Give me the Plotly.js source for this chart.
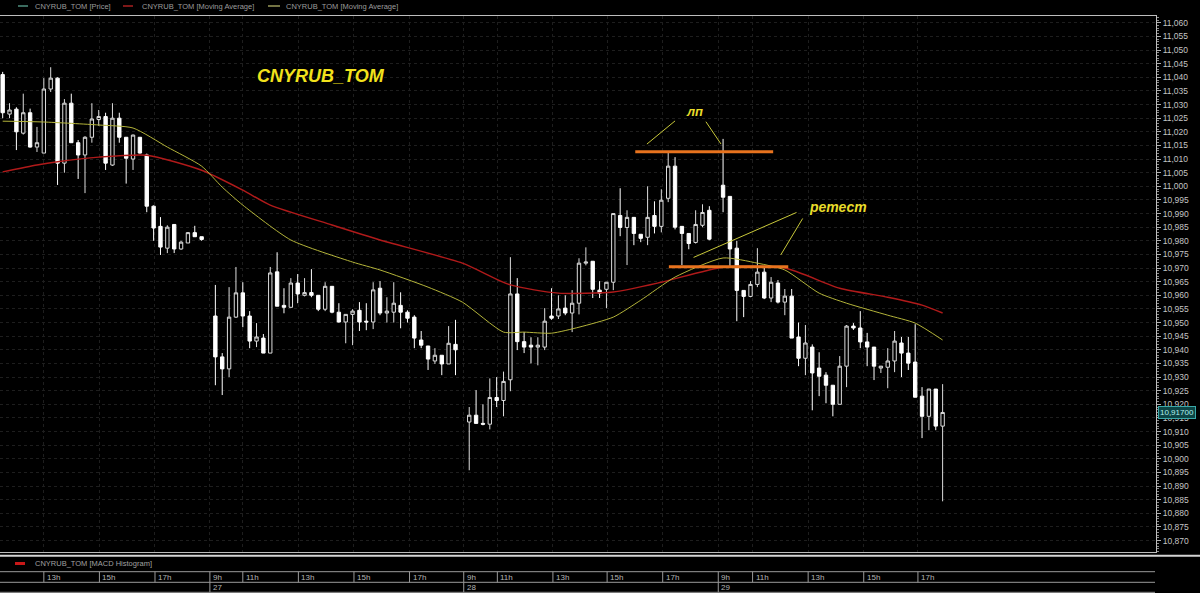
<!DOCTYPE html>
<html>
<head>
<meta charset="utf-8">
<script src="https://cdn.plot.ly/plotly-3.0.1.min.js"></script>
<style>
html,body{margin:0;padding:0;background:#000;}
#chart{width:1200px;height:593px;}
</style>
</head>
<body>
<div id="chart"></div>
<script>
// ---- Data (15-minute candles, CNYRUB_TOM) ----
const dayStart = [0, 31, 68, 105];
const dayCount = [30, 36, 36, 33];

const open = [
 11.0410,11.0265,11.0283,11.0195,11.0270,11.0144,11.0122,11.0357,11.0397,11.0085,
 11.0305,11.0160,11.0115,11.0180,11.0245,11.0256,11.0078,11.0250,11.0180,11.0100,
 11.0180,11.0115,10.9927,10.9853,10.9773,10.9860,10.9770,10.9792,10.9830,10.9815,
 10.9524,10.9374,10.9330,10.9520,10.9609,10.9524,10.9432,10.9443,10.9388,10.9686,
 10.9563,10.9556,10.9645,10.9600,10.9610,10.9600,10.9549,10.9633,10.9538,10.9502,
 10.9530,10.9545,10.9505,10.9502,10.9626,10.9535,10.9538,10.9563,10.9538,10.9520,
 10.9436,10.9414,10.9359,10.9380,10.9348,10.9420,
 10.9135,10.9160,10.9130,10.9127,10.9225,10.9214,10.9290,10.9605,10.9430,10.9417,
 10.9410,10.9410,10.9524,10.9524,10.9553,10.9535,10.9571,10.9718,10.9725,10.9619,
 10.9622,10.9648,10.9893,10.9849,10.9886,10.9824,10.9813,10.9893,10.9853,10.9956,
 11.0074,10.9853,10.9827,10.9794,10.9857,10.9912,
 11.0004,10.9963,10.9773,10.9618,10.9596,10.9640,10.9685,10.9590,10.9645,10.9575,
 10.9597,10.9447,10.9369,10.9410,10.9333,10.9307,10.9270,10.9200,10.9340,10.9487,
 10.9480,10.9429,10.9410,10.9333,10.9336,10.9359,10.9425,10.9388,10.9355,10.9230,
 10.9156,10.9256,10.9120
];
const high = [
 11.0420,11.0305,11.0290,11.0340,11.0285,11.0218,11.0397,11.0437,11.0400,11.0320,
 11.0340,11.0170,11.0184,11.0305,11.0280,11.0270,11.0305,11.0270,11.0180,11.0190,
 11.0180,11.0120,10.9930,10.9887,10.9857,10.9860,10.9800,10.9832,10.9855,10.9815,
 10.9638,10.9388,10.9630,10.9704,10.9648,10.9542,10.9498,10.9458,10.9704,10.9758,
 10.9626,10.9663,10.9678,10.9663,10.9696,10.9600,10.9648,10.9633,10.9571,10.9530,
 10.9549,10.9575,10.9571,10.9648,10.9652,10.9593,10.9648,10.9611,10.9545,10.9527,
 10.9469,10.9414,10.9406,10.9380,10.9487,10.9510,
 10.9190,10.9252,10.9200,10.9295,10.9300,10.9320,10.9740,10.9663,10.9465,10.9446,
 10.9446,10.9553,10.9626,10.9600,10.9600,10.9619,10.9736,10.9776,10.9725,10.9652,
 10.9648,10.9900,10.9993,10.9912,10.9886,10.9824,11.0000,10.9945,10.9989,11.0125,
 11.0107,10.9853,10.9827,10.9912,10.9934,10.9927,
 11.0174,10.9963,10.9800,10.9618,10.9652,10.9773,10.9707,10.9667,10.9656,10.9623,
 10.9623,10.9500,10.9491,10.9420,10.9391,10.9318,10.9270,10.9377,10.9491,10.9498,
 10.9542,10.9462,10.9410,10.9340,10.9406,10.9469,10.9447,10.9447,10.9494,10.9263,
 10.9256,10.9256,10.9274
];
const low = [
 11.0250,11.0250,11.0133,11.0190,11.0142,11.0126,11.0122,11.0346,11.0005,11.0050,
 11.0160,11.0027,10.9975,11.0160,11.0222,11.0060,11.0075,11.0160,11.0010,11.0060,
 11.0120,10.9905,10.9800,10.9748,10.9755,10.9755,10.9767,10.9792,10.9815,10.9800,
 10.9270,10.9234,10.9300,10.9517,10.9483,10.9406,10.9410,10.9388,10.9388,10.9560,
 10.9534,10.9556,10.9571,10.9596,10.9593,10.9542,10.9542,10.9534,10.9500,10.9424,
 10.9417,10.9469,10.9472,10.9476,10.9527,10.9500,10.9500,10.9479,10.9500,10.9406,
 10.9406,10.9326,10.9348,10.9307,10.9348,10.9307,
 10.8958,10.9130,10.9123,10.9108,10.9190,10.9156,10.9248,10.9399,10.9388,10.9350,
 10.9343,10.9399,10.9510,10.9513,10.9527,10.9465,10.9530,10.9710,10.9590,10.9590,
 10.9553,10.9619,10.9817,10.9711,10.9784,10.9795,10.9784,10.9827,10.9831,10.9942,
 10.9842,10.9711,10.9769,10.9790,10.9850,10.9802,
 10.9905,10.9703,10.9505,10.9520,10.9593,10.9630,10.9586,10.9575,10.9570,10.9527,
 10.9443,10.9340,10.9307,10.9178,10.9230,10.9204,10.9156,10.9200,10.9263,10.9473,
 10.9406,10.9340,10.9289,10.9315,10.9259,10.9318,10.9300,10.9326,10.9226,10.9076,
 10.9105,10.9105,10.8844
];
const close = [
 11.0270,11.0280,11.0200,11.0270,11.0144,11.0160,11.0357,11.0397,11.0085,11.0305,
 11.0160,11.0115,11.0180,11.0247,11.0256,11.0085,11.0250,11.0180,11.0103,11.0188,
 11.0122,10.9927,10.9847,10.9777,10.9850,10.9770,10.9795,10.9830,10.9815,10.9805,
 10.9374,10.9330,10.9520,10.9609,10.9524,10.9432,10.9447,10.9388,10.9682,10.9560,
 10.9556,10.9645,10.9605,10.9610,10.9600,10.9549,10.9633,10.9538,10.9502,10.9530,
 10.9542,10.9502,10.9502,10.9620,10.9535,10.9542,10.9571,10.9538,10.9516,10.9443,
 10.9417,10.9366,10.9380,10.9348,10.9424,10.9400,
 10.9160,10.9130,10.9127,10.9225,10.9214,10.9284,10.9605,10.9430,10.9410,10.9410,
 10.9417,10.9505,10.9516,10.9550,10.9535,10.9571,10.9718,10.9722,10.9622,10.9608,
 10.9648,10.9900,10.9849,10.9886,10.9827,10.9809,10.9886,10.9853,10.9949,11.0074,
 10.9850,10.9827,10.9790,10.9860,10.9904,10.9806,
 10.9960,10.9770,10.9618,10.9596,10.9640,10.9685,10.9590,10.9648,10.9575,10.9597,
 10.9443,10.9369,10.9425,10.9315,10.9303,10.9270,10.9200,10.9340,10.9487,10.9480,
 10.9429,10.9410,10.9340,10.9340,10.9359,10.9432,10.9388,10.9351,10.9226,10.9156,
 10.9256,10.9120,10.9170
];

// Moving averages (bar position, value)
const maRedIdx = [0,5,8,14,21,29,35,39,48,55,67,74,81,89,96,105,114,122,129,134,137];
const maRed    = [11.0053,11.0078,11.0090,11.0107,11.0114,11.0059,10.9986,10.9931,10.9858,10.9803,
                  10.9718,10.9638,10.9608,10.9612,10.9648,10.9703,10.9700,10.9626,10.9593,10.9564,10.9535];
const maYelIdx = [0,6,14,19,24,29,32,35,42,51,55,62,67,73,76,80,84,89,93,98,105,110,114,119,123,129,133,137];
const maYel    = [11.0239,11.0236,11.0225,11.0214,11.0144,11.0074,10.9997,10.9931,10.9803,10.9722,
                  10.9693,10.9630,10.9575,10.9465,10.9465,10.9461,10.9483,10.9520,10.9582,10.9667,
                  10.9737,10.9718,10.9693,10.9608,10.9571,10.9527,10.9498,10.9436];

// Time axis labels
const hourTickIdx  = [6.0,14.1,22.2,30.2,35.0,43.1,51.2,59.3,67.2,72.1,80.2,88.1,96.2,104.3,109.3,117.4,125.5,133.4];
const hourTickText = ['13h','15h','17h','9h','11h','13h','15h','17h','9h','11h','13h','15h','17h','9h','11h','13h','15h','17h'];
const dayTickIdx  = [30.2,67.2,104.3];
const dayTickText = ['27','28','29'];

// Drawn analysis levels: [fromIdx, toIdx, price]
const levelNeck = [97.1, 114.5, 10.9705];
const levelTop  = [92.2, 112.3, 11.0127];
// Pointer strokes [x0, y0, x1, y1]
const strokes = [
  [93.9, 11.0155, 98.0, 11.0240],
  [102.5, 11.0237, 104.7, 11.0155],
  [100.7, 10.9739, 115.7, 10.9904],
  [113.4, 10.9748, 116.6, 10.9882]
];
const lastPrice = 10.917;

// ---- Build ----
const idx = [];
dayStart.forEach((s, d) => { for (let k = 0; k < dayCount[d]; k++) idx.push(s + k); });

const W = 1200, H = 593, L = 0, R = 44, T = 16, B = 41;
const plotW = W - L - R, plotH = H - T - B;
const px = x => (x - L) / plotW;          // pixel -> paper x
const py = y => (H - B - y) / plotH;       // pixel -> paper y

const traces = [
  {
    type: 'candlestick', x: idx, open: open, high: high, low: low, close: close,
    increasing: {line: {color: '#dcdcdc', width: 1}, fillcolor: '#000000'},
    decreasing: {line: {color: '#ffffff', width: 1}, fillcolor: '#ffffff'},
    whiskerwidth: 0, showlegend: false, hoverinfo: 'skip'
  },
  {
    type: 'scatter', mode: 'lines', x: maRedIdx, y: maRed,
    line: {color: '#b01a1a', width: 1.4, shape: 'spline', smoothing: 0.6},
    showlegend: false, hoverinfo: 'skip'
  },
  {
    type: 'scatter', mode: 'lines', x: maYelIdx, y: maYel,
    line: {color: '#b4b43a', width: 1, shape: 'spline', smoothing: 0.6},
    showlegend: false, hoverinfo: 'skip'
  }
];

const shapes = [];
const annotations = [];

// analysis levels
[levelTop, levelNeck].forEach(l => shapes.push({
  type: 'line', xref: 'x', yref: 'y', x0: l[0], x1: l[1], y0: l[2], y1: l[2],
  line: {color: '#e8731e', width: 3}
}));
strokes.forEach(s => shapes.push({
  type: 'line', xref: 'x', yref: 'y', x0: s[0], y0: s[1], x1: s[2], y1: s[3],
  line: {color: '#c8c83a', width: 1}
}));

// top legend
const legendItems = [
  {x0: 18, x1: 28, tx: 33, color: '#4f8f7f', text: 'CNYRUB_TOM [Price]'},
  {x0: 123, x1: 133, tx: 140, color: '#a82020', text: 'CNYRUB_TOM [Moving Average]'},
  {x0: 268, x1: 280, tx: 284, color: '#9a9a5a', text: 'CNYRUB_TOM [Moving Average]'}
];
legendItems.forEach(it => {
  shapes.push({type: 'line', xref: 'paper', yref: 'paper', x0: px(it.x0), x1: px(it.x1),
    y0: py(6), y1: py(6), line: {color: it.color, width: 1.5}});
  annotations.push({xref: 'paper', yref: 'paper', x: px(it.tx), y: py(6.5), xanchor: 'left', yanchor: 'middle',
    text: it.text, showarrow: false, font: {family: 'Liberation Sans, Arial', size: 7.5, color: '#9c9c9c'}});
});

// bottom panel lines
shapes.push({type: 'line', xref: 'paper', yref: 'paper', x0: 0, x1: px(W), y0: py(555.7), y1: py(555.7),
  line: {color: '#d4d4d4', width: 2}});
[571.7, 582.3, 592.3].forEach(y => shapes.push({type: 'line', xref: 'paper', yref: 'paper',
  x0: 0, x1: px(1155), y0: py(y), y1: py(y), line: {color: '#9a9a9a', width: 1}}));
// MACD legend
shapes.push({type: 'line', xref: 'paper', yref: 'paper', x0: px(15), x1: px(25), y0: py(563.5), y1: py(563.5),
  line: {color: '#c81818', width: 3}});
annotations.push({xref: 'paper', yref: 'paper', x: px(33), y: py(563.5), xanchor: 'left', yanchor: 'middle',
  text: 'CNYRUB_TOM [MACD Histogram]', showarrow: false,
  font: {family: 'Liberation Sans, Arial', size: 7.5, color: '#a0a0a0'}});

// time axis ticks and labels
hourTickIdx.forEach((v, i) => {
  shapes.push({type: 'line', xref: 'x', yref: 'paper', x0: v, x1: v, y0: py(571.7), y1: py(582.3),
    line: {color: '#9a9a9a', width: 1}});
  annotations.push({xref: 'x', yref: 'paper', x: v, y: py(577.2), xanchor: 'left', yanchor: 'middle',
    xshift: 1, text: hourTickText[i], showarrow: false,
    font: {family: 'Liberation Sans, Arial', size: 8, color: '#b4b4b4'}});
});
dayTickIdx.forEach((v, i) => {
  shapes.push({type: 'line', xref: 'x', yref: 'paper', x0: v, x1: v, y0: py(582.3), y1: py(592.3),
    line: {color: '#9a9a9a', width: 1}});
  annotations.push({xref: 'x', yref: 'paper', x: v, y: py(587.5), xanchor: 'left', yanchor: 'middle',
    xshift: 1, text: dayTickText[i], showarrow: false,
    font: {family: 'Liberation Sans, Arial', size: 8, color: '#b4b4b4'}});
});

// chart texts
annotations.push({xref: 'x', yref: 'y', x: 46.4, y: 11.0406, text: '<b><i>CNYRUB_TOM</i></b>',
  showarrow: false, font: {family: 'Liberation Sans, Arial', size: 18, color: '#f2e21c'}});
annotations.push({xref: 'x', yref: 'y', x: 100.8, y: 11.0275, text: '<b><i>лп</i></b>',
  showarrow: false, font: {family: 'Liberation Sans, Arial', size: 13, color: '#e8dc2a'}});
annotations.push({xref: 'x', yref: 'y', x: 121.8, y: 10.9925, text: '<b><i>ретест</i></b>',
  showarrow: false, font: {family: 'Liberation Sans, Arial', size: 14, color: '#e8dc2a'}});

// last price label
annotations.push({xref: 'paper', yref: 'y', x: 1, y: lastPrice, xanchor: 'left', yanchor: 'middle',
  xshift: 2, text: '10,91700', showarrow: false, bgcolor: '#0c4444', bordercolor: '#3aa8a8',
  borderwidth: 1, borderpad: 1, font: {family: 'Liberation Sans, Arial', size: 8, color: '#b0f0f0'}});

const layout = {
  width: W, height: H,
  paper_bgcolor: '#000000', plot_bgcolor: '#000000',
  margin: {l: L, r: R, t: T, b: B, pad: 0},
  separators: ', ',
  showlegend: false,
  xaxis: {
    range: [-0.39, 168.1], rangeslider: {visible: false},
    tickmode: 'array', tickvals: hourTickIdx, showticklabels: false, ticks: '',
    showgrid: true, gridcolor: '#1e1e1e', griddash: 'dot', gridwidth: 1,
    zeroline: false, showline: true, mirror: true, linecolor: '#bdbdbd', linewidth: 1,
    fixedrange: true, automargin: false
  },
  yaxis: {
    side: 'right', range: [10.8658, 11.0625],
    tick0: 11.06, dtick: 0.005, tickformat: '.3f',
    ticks: 'outside', ticklen: 4, tickcolor: '#b0b0b0', tickwidth: 1,
    minor: {dtick: 0.001, ticks: 'outside', ticklen: 2, tickcolor: '#8a8a8a', showgrid: false},
    tickfont: {family: 'Liberation Sans, Arial', size: 8.5, color: '#c4c4c4'},
    showgrid: true, gridcolor: '#1e1e1e', griddash: 'dot', gridwidth: 1,
    zeroline: false, showline: true, linecolor: '#bdbdbd', linewidth: 1,
    fixedrange: true, automargin: false
  },
  shapes: shapes,
  annotations: annotations
};

Plotly.newPlot('chart', traces, layout, {staticPlot: true, displayModeBar: false});
</script>
</body>
</html>
